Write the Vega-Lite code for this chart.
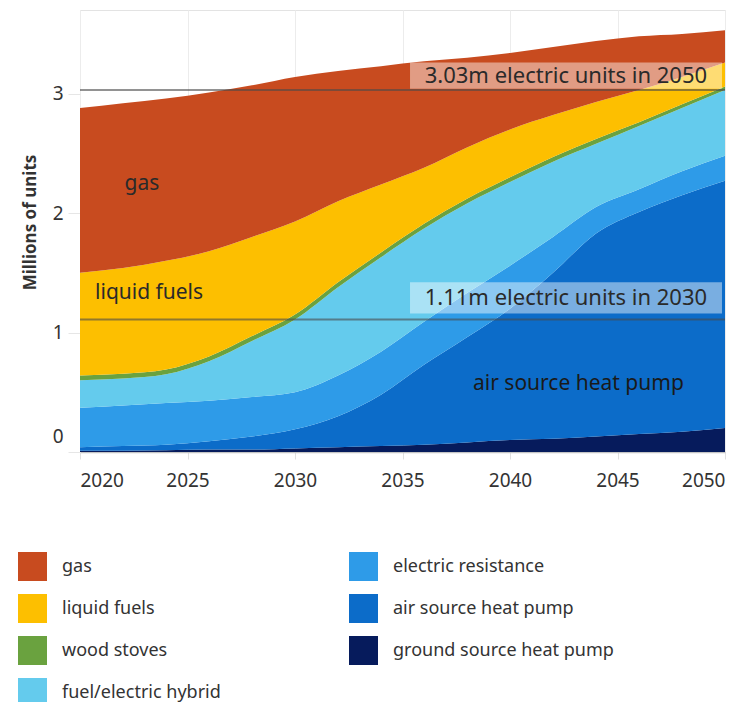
{
  "$schema": "https://vega.github.io/schema/vega-lite/v6.json",
  "width": 645,
  "height": 442,
  "autosize": "none",
  "padding": {"left": 80, "top": 10, "right": 4, "bottom": 250},
  "background": "white",
  "config": {
    "font": "Noto Sans",
    "view": {"stroke": "#e3e3e3", "strokeWidth": 1}
  },
  "layer": [
    {
      "data": {
        "values": [
          {"year": 2020, "ground source heat pump": 0.01, "air source heat pump": 0.03, "electric resistance": 0.33, "fuel/electric hybrid": 0.23, "wood stoves": 0.04, "liquid fuels": 0.86, "gas": 1.38},
          {"year": 2022, "ground source heat pump": 0.01, "air source heat pump": 0.04, "electric resistance": 0.34, "fuel/electric hybrid": 0.225, "wood stoves": 0.04, "liquid fuels": 0.885, "gas": 1.38},
          {"year": 2024, "ground source heat pump": 0.015, "air source heat pump": 0.045, "electric resistance": 0.35, "fuel/electric hybrid": 0.24, "wood stoves": 0.04, "liquid fuels": 0.91, "gas": 1.36},
          {"year": 2026, "ground source heat pump": 0.02, "air source heat pump": 0.07, "electric resistance": 0.34, "fuel/electric hybrid": 0.33, "wood stoves": 0.04, "liquid fuels": 0.88, "gas": 1.33},
          {"year": 2028, "ground source heat pump": 0.02, "air source heat pump": 0.11, "electric resistance": 0.33, "fuel/electric hybrid": 0.47, "wood stoves": 0.04, "liquid fuels": 0.83, "gas": 1.27},
          {"year": 2030, "ground source heat pump": 0.03, "air source heat pump": 0.16, "electric resistance": 0.31, "fuel/electric hybrid": 0.61, "wood stoves": 0.04, "liquid fuels": 0.78, "gas": 1.21},
          {"year": 2032, "ground source heat pump": 0.04, "air source heat pump": 0.26, "electric resistance": 0.34, "fuel/electric hybrid": 0.74, "wood stoves": 0.04, "liquid fuels": 0.68, "gas": 1.09},
          {"year": 2034, "ground source heat pump": 0.05, "air source heat pump": 0.43, "electric resistance": 0.36, "fuel/electric hybrid": 0.79, "wood stoves": 0.04, "liquid fuels": 0.57, "gas": 0.99},
          {"year": 2036, "ground source heat pump": 0.06, "air source heat pump": 0.67, "electric resistance": 0.36, "fuel/electric hybrid": 0.78, "wood stoves": 0.04, "liquid fuels": 0.47, "gas": 0.89},
          {"year": 2038, "ground source heat pump": 0.08, "air source heat pump": 0.88, "electric resistance": 0.37, "fuel/electric hybrid": 0.75, "wood stoves": 0.04, "liquid fuels": 0.43, "gas": 0.75},
          {"year": 2040, "ground source heat pump": 0.10, "air source heat pump": 1.10, "electric resistance": 0.36, "fuel/electric hybrid": 0.70, "wood stoves": 0.04, "liquid fuels": 0.40, "gas": 0.64},
          {"year": 2042, "ground source heat pump": 0.11, "air source heat pump": 1.39, "electric resistance": 0.30, "fuel/electric hybrid": 0.63, "wood stoves": 0.04, "liquid fuels": 0.35, "gas": 0.57},
          {"year": 2044, "ground source heat pump": 0.13, "air source heat pump": 1.70, "electric resistance": 0.22, "fuel/electric hybrid": 0.53, "wood stoves": 0.04, "liquid fuels": 0.31, "gas": 0.51},
          {"year": 2046, "ground source heat pump": 0.15, "air source heat pump": 1.86, "electric resistance": 0.19, "fuel/electric hybrid": 0.53, "wood stoves": 0.03, "liquid fuels": 0.27, "gas": 0.45},
          {"year": 2048, "ground source heat pump": 0.17, "air source heat pump": 1.98, "electric resistance": 0.20, "fuel/electric hybrid": 0.53, "wood stoves": 0.03, "liquid fuels": 0.23, "gas": 0.36},
          {"year": 2050, "ground source heat pump": 0.20, "air source heat pump": 2.07, "electric resistance": 0.21, "fuel/electric hybrid": 0.55, "wood stoves": 0.03, "liquid fuels": 0.20, "gas": 0.27}
        ]
      },
      "transform": [
        {"fold": ["ground source heat pump", "air source heat pump", "electric resistance", "fuel/electric hybrid", "wood stoves", "liquid fuels", "gas"], "as": ["type", "value"]},
        {"calculate": "indexof(['ground source heat pump', 'air source heat pump', 'electric resistance', 'fuel/electric hybrid', 'wood stoves', 'liquid fuels', 'gas'], datum.type)", "as": "ord"}
      ],
      "mark": {"type": "area", "interpolate": "monotone"},
      "encoding": {
        "x": {
          "field": "year", "type": "quantitative",
          "scale": {"domain": [2020, 2050], "nice": false, "zero": false},
          "axis": {
            "values": [2020, 2025, 2030, 2035, 2040, 2045, 2050], "format": "d", "title": null,
            "grid": true, "gridColor": "#ececec",
            "domainColor": "#c4c4c4", "domainWidth": 1.5,
            "tickColor": "#e0e0e0", "tickSize": 7,
            "labelPadding": 12, "labelFontSize": 19, "labelColor": "#333333", "labelFlush": true
          }
        },
        "y": {
          "field": "value", "type": "quantitative", "stack": "zero",
          "scale": {"domain": [0, 3.7], "nice": false},
          "axis": {
            "values": [0, 1, 2, 3], "format": "d", "title": "Millions of units", "grid": false, "domain": false,
            "tickColor": "#e6e6e6", "tickSize": 12, "labelPadding": 5,
            "labelFontSize": 19, "labelColor": "#333333", "labelFlush": 1, "labelFlushOffset": -6,
            "titleFontSize": 17, "titleFontWeight": "bold", "titleColor": "#333333",
            "titleX": -50, "titleY": 212, "titleAngle": -90, "titleAlign": "center", "titleBaseline": "middle"
          }
        },
        "color": {
          "field": "type", "type": "nominal",
          "scale": {
            "domain": ["gas", "liquid fuels", "wood stoves", "fuel/electric hybrid", "electric resistance", "air source heat pump", "ground source heat pump"],
            "range": ["#c84b1f", "#fdbf00", "#6aa23f", "#64cbed", "#2e9be8", "#0c6cc9", "#061b5c"]
          },
          "legend": {
            "title": null, "orient": "none", "legendX": -62, "legendY": 542, "columns": 2,
            "symbolType": "square", "symbolSize": 841, "symbolStrokeWidth": 0, "symbolOpacity": 1,
            "labelFontSize": 18, "labelColor": "#333333", "labelOffset": 15, "labelLimit": 400,
            "rowPadding": 13, "columnPadding": 128, "padding": 0
          }
        },
        "order": {"field": "ord", "type": "quantitative"}
      }
    },
    {
      "data": {"values": [{"v": 3.03}, {"v": 1.11}]},
      "mark": {"type": "rule", "color": "#4a4a4a", "strokeWidth": 2, "opacity": 0.6},
      "encoding": {"y": {"field": "v", "type": "quantitative"}}
    },
    {
      "data": {"values": [{}]},
      "mark": {"type": "rect", "fill": "white", "opacity": 0.45},
      "encoding": {"x": {"datum": 2035.35}, "x2": {"datum": 2049.86}, "y": {"datum": 3.26}, "y2": {"datum": 3.04}}
    },
    {
      "data": {"values": [{}]},
      "mark": {"type": "rect", "fill": "white", "opacity": 0.45},
      "encoding": {"x": {"datum": 2035.35}, "x2": {"datum": 2049.86}, "y": {"datum": 1.42}, "y2": {"datum": 1.16}}
    },
    {
      "data": {"values": [{}]},
      "mark": {"type": "text", "fontSize": 22, "color": "#2a2a2a", "align": "center", "baseline": "middle"},
      "encoding": {"x": {"datum": 2042.6}, "y": {"datum": 3.15}, "text": {"value": "3.03m electric units in 2050"}}
    },
    {
      "data": {"values": [{}]},
      "mark": {"type": "text", "fontSize": 22, "color": "#2a2a2a", "align": "center", "baseline": "middle"},
      "encoding": {"x": {"datum": 2042.6}, "y": {"datum": 1.285}, "text": {"value": "1.11m electric units in 2030"}}
    },
    {
      "data": {"values": [{}]},
      "mark": {"type": "text", "fontSize": 21, "color": "#2a2a2a", "align": "center", "baseline": "middle"},
      "encoding": {"x": {"datum": 2022.88}, "y": {"datum": 2.245}, "text": {"value": "gas"}}
    },
    {
      "data": {"values": [{}]},
      "mark": {"type": "text", "fontSize": 21, "color": "#2a2a2a", "align": "left", "baseline": "middle"},
      "encoding": {"x": {"datum": 2020.7}, "y": {"datum": 1.327}, "text": {"value": "liquid fuels"}}
    },
    {
      "data": {"values": [{}]},
      "mark": {"type": "text", "fontSize": 21, "color": "#1a1a1a", "align": "left", "baseline": "middle"},
      "encoding": {"x": {"datum": 2038.28}, "y": {"datum": 0.566}, "text": {"value": "air source heat pump"}}
    }
  ]
}
